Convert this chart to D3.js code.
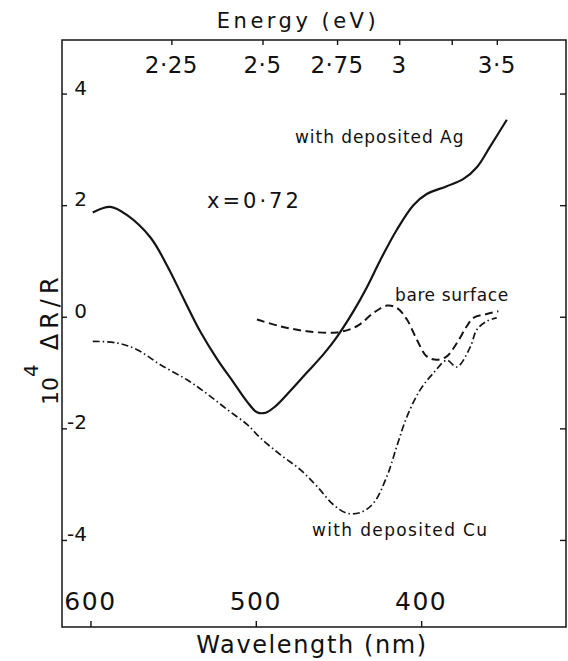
<!DOCTYPE html>
<html>
<head>
<meta charset="utf-8">
<script src="https://cdn.jsdelivr.net/npm/d3@7/dist/d3.min.js"></script>
<style>
  html, body { margin: 0; padding: 0; background: #fff; }
  svg { display: block; }
  text { font-family: "DejaVu Sans", sans-serif; fill: #111; }
</style>
</head>
<body>
<svg id="chart" width="568" height="661"></svg>
<script>
// ---- data ----
const wavelengthTicks = [600, 500, 400];
const energyTicks = [2.25, 2.5, 2.75, 3, 3.25, 3.5];
const energyTickLabels = ["2·25", "2·5", "2·75", "3", "", "3·5"];
const valueTicks = [4, 2, 0, -2, -4];
const valueTickLabels = ["4", "2", "0", "-2", "-4"];

// with deposited Ag (solid)
const agWavelength = [598.6, 587.9, 577.8, 563.7, 553.7, 543.6, 533.5, 523.4, 513.4, 505.3, 499.3, 494.0, 488.0, 479.2, 469.1, 459.0, 450.9, 440.9, 432.8, 424.8, 414.7, 404.7, 396.6, 384.5, 374.4, 366.3, 358.3, 348.2];
const agValue      = [1.87, 1.97, 1.82, 1.42, 0.92, 0.32, -0.27, -0.76, -1.18, -1.52, -1.71, -1.72, -1.60, -1.33, -1.00, -0.67, -0.36, 0.10, 0.53, 1.01, 1.56, 2.00, 2.20, 2.34, 2.47, 2.68, 3.05, 3.53];

// bare surface (dashed)
const bareWavelength = [499.3, 485.2, 469.1, 450.9, 438.9, 428.8, 420.7, 414.7, 408.6, 402.6, 396.6, 390.5, 384.5, 378.4, 372.4, 368.4, 360.3, 353.3];
const bareValue      = [-0.05, -0.17, -0.26, -0.28, -0.17, 0.07, 0.20, 0.16, -0.05, -0.41, -0.71, -0.77, -0.71, -0.47, -0.17, -0.02, 0.05, 0.10];

// with deposited Cu (dash-dot)
const cuWavelength = [598.6, 583.9, 571.8, 557.7, 541.6, 529.5, 517.4, 505.3, 497.3, 485.2, 473.1, 463.0, 453.0, 444.9, 436.9, 428.8, 420.7, 414.7, 408.6, 400.6, 392.6, 384.5, 378.4, 370.4, 366.3, 360.3, 354.3];
const cuValue      = [-0.44, -0.47, -0.59, -0.86, -1.13, -1.38, -1.66, -1.93, -2.17, -2.47, -2.74, -3.04, -3.37, -3.52, -3.51, -3.34, -2.86, -2.32, -1.79, -1.31, -1.01, -0.78, -0.90, -0.55, -0.23, -0.08, -0.02];

const hcOverE = 1239.84; // nm·eV

// ---- layout ----
const svg = d3.select("#chart");
const L = 62, R = 566, T = 40, B = 627;

const x = d3.scaleLinear().domain([617.2, 312.4]).range([L, R]);
const y = d3.scaleLinear().domain([4.96, -5.56]).range([T, B]);

const ink = "#151515";

// frame
svg.append("rect")
  .attr("x", L).attr("y", T).attr("width", R - L).attr("height", B - T)
  .attr("fill", "none").attr("stroke", ink).attr("stroke-width", 1.5);

// bottom axis (wavelength) – inward ticks
const bottomAxis = d3.axisTop(x).tickValues(wavelengthTicks).tickSize(6).tickFormat("");
const gB = svg.append("g").attr("transform", `translate(0,${B})`).call(bottomAxis);
gB.select(".domain").remove();
gB.selectAll("line").attr("stroke", ink).attr("stroke-width", 1.4);
svg.append("g").selectAll("text").data(wavelengthTicks).join("text")
  .attr("x", d => x(d)).attr("y", 610)
  .attr("text-anchor", "middle")
  .attr("font-size", 25).attr("letter-spacing", 1.5)
  .text(d => d);

// top axis (energy) – inward ticks
const energyPos = e => x(hcOverE / e);
const topAxis = d3.axisBottom(x).tickValues(energyTicks.map(e => hcOverE / e)).tickSize(5).tickFormat("");
const gT = svg.append("g").attr("transform", `translate(0,${T})`).call(topAxis);
gT.select(".domain").remove();
gT.selectAll("line").attr("stroke", ink).attr("stroke-width", 1.4);
svg.append("g").selectAll("text").data(energyTicks).join("text")
  .attr("x", d => energyPos(d)).attr("y", 73)
  .attr("text-anchor", "middle")
  .attr("font-size", 23).attr("letter-spacing", 0.5)
  .text((d, i) => energyTickLabels[i]);

// left axis – inward ticks, labels inside frame
const leftAxis = d3.axisRight(y).tickValues(valueTicks).tickSize(5).tickFormat("");
const gL = svg.append("g").attr("transform", `translate(${L},0)`).call(leftAxis);
gL.select(".domain").remove();
gL.selectAll("line").attr("stroke", ink).attr("stroke-width", 1.4);
svg.append("g").selectAll("text").data(valueTicks).join("text")
  .attr("x", 87).attr("y", d => y(d) + 1)
  .attr("text-anchor", "end")
  .attr("font-size", 20)
  .text((d, i) => valueTickLabels[i]);

// right axis – inward ticks
const rightAxis = d3.axisLeft(y).tickValues(valueTicks).tickSize(6).tickFormat("");
const gR = svg.append("g").attr("transform", `translate(${R},0)`).call(rightAxis);
gR.select(".domain").remove();
gR.selectAll("line").attr("stroke", ink).attr("stroke-width", 1.4);

// axis titles
svg.append("text").attr("x", 298).attr("y", 28)
  .attr("text-anchor", "middle").attr("font-size", 21).attr("letter-spacing", 3.5)
  .text("Energy (eV)");
svg.append("text").attr("x", 312).attr("y", 653)
  .attr("text-anchor", "middle").attr("font-size", 24).attr("letter-spacing", 1.6)
  .text("Wavelength (nm)");

const yTitle = svg.append("text")
  .attr("transform", "translate(58,405) rotate(-90)")
  .attr("text-anchor", "start").attr("font-size", 22);
yTitle.append("tspan").text("10");
yTitle.append("tspan").attr("font-size", 20).attr("dy", -20).text("4");
yTitle.append("tspan").attr("dy", 20).attr("dx", 14).attr("font-size", 24).attr("letter-spacing", 5).text("ΔR/R");

// curves
const mk = (ws, vs) => ws.map((w, i) => [w, vs[i]]);
const line = d3.line().x(d => x(d[0])).y(d => y(d[1])).curve(d3.curveCatmullRom.alpha(0.5));

svg.append("path").attr("d", line(mk(agWavelength, agValue)))
  .attr("fill", "none").attr("stroke", ink).attr("stroke-width", 2.2);
svg.append("path").attr("d", line(mk(bareWavelength, bareValue)))
  .attr("fill", "none").attr("stroke", ink).attr("stroke-width", 2)
  .attr("stroke-dasharray", "8,4.5");
svg.append("path").attr("d", line(mk(cuWavelength, cuValue)))
  .attr("fill", "none").attr("stroke", ink).attr("stroke-width", 1.7)
  .attr("stroke-dasharray", "7,3,1.5,3");

// annotations
svg.append("text").attr("x", 207).attr("y", 208)
  .attr("font-size", 21).attr("letter-spacing", 3).text("x=0·72");
svg.append("text").attr("x", 295).attr("y", 143)
  .attr("font-size", 17).attr("letter-spacing", 0.95).text("with deposited Ag");
svg.append("text").attr("x", 395).attr("y", 300.5)
  .attr("font-size", 17).attr("letter-spacing", 0.6).text("bare surface");
svg.append("text").attr("x", 312).attr("y", 536)
  .attr("font-size", 17).attr("letter-spacing", 1.35).text("with deposited Cu");
</script>
</body>
</html>
